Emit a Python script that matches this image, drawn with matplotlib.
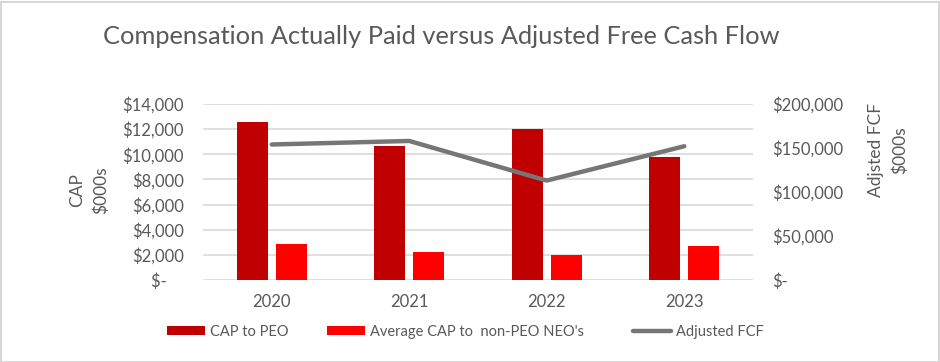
import matplotlib
matplotlib.use("Agg")
import matplotlib.pyplot as plt
import numpy as np
from matplotlib.patches import Rectangle

years = ["2020", "2021", "2022", "2023"]
cap_peo = [12600, 10650, 12050, 9750]
cap_neo = [2850, 2250, 1950, 2700]
adj_fcf = [154000, 158000, 113000, 152000]

left_ticks = [0, 2000, 4000, 6000, 8000, 10000, 12000, 14000]
left_labels = ["$-    ", "$2,000", "$4,000", "$6,000", "$8,000", "$10,000", "$12,000", "$14,000"]
right_ticks = [0, 50000, 100000, 150000, 200000]
right_labels = ["$-", "$50,000", "$100,000", "$150,000", "$200,000"]

plt.rcParams['font.family'] = ['Lato', 'DejaVu Sans']
grey = "#595959"
W, H = 940, 362
fig = plt.figure(figsize=(W / 100, H / 100), dpi=100)
fig.patches.append(Rectangle((0.5 / W, 0.5 / H), 1 - 2 / W, 1 - 2 / H, transform=fig.transFigure,
                             fill=False, edgecolor="#d0d0d0", linewidth=1.2))

x0, x1, y0, y1 = 203, 753, 104, 280
ax = fig.add_axes([x0 / W, 1 - y1 / H, (x1 - x0) / W, (y1 - y0) / H])
x = np.arange(len(years))
bw = 0.225
off = 0.143
b1 = ax.bar(x - off, cap_peo, bw, color="#C00000", label="CAP to PEO", zorder=3)
b2 = ax.bar(x + off, cap_neo, bw, color="#FF0000", label="Average CAP to  non-PEO NEO's", zorder=3)
ax.set_xlim(-0.5, len(years) - 0.5)
ax.set_ylim(0, 14000)
ax.set_yticks(left_ticks)
ax.set_yticklabels(left_labels)
ax.set_xticks(x)
ax.set_xticklabels(years)
ax.grid(axis="y", color="#d9d9d9", linewidth=1.2, zorder=0)
for s in ax.spines.values():
    s.set_visible(False)
ax.tick_params(axis="both", length=0, labelsize=12, labelcolor=grey)
ax.tick_params(axis="y", pad=14)
ax.tick_params(axis="x", pad=10)

ax2 = ax.twinx()
l1, = ax2.plot(x, adj_fcf, color="#767676", linewidth=3.2, solid_capstyle="round", label="Adjusted FCF", zorder=4)
ax2.set_ylim(0, 200000)
ax2.set_yticks(right_ticks)
ax2.set_yticklabels(right_labels)
for s in ax2.spines.values():
    s.set_visible(False)
ax2.tick_params(axis="y", length=0, labelsize=12, labelcolor=grey, pad=14)

fig.text(89 / W, 1 - 190 / H, "CAP\n$000s", rotation=90, ha="center", va="center",
         fontsize=12.5, color=grey, linespacing=1.6, multialignment="center")
fig.text(888 / W, 1 - 150 / H, "Adjsted FCF\n$000s", rotation=90, ha="center", va="center",
         fontsize=12.5, color=grey, linespacing=1.6, multialignment="center")

fig.text(441 / W, 1 - 36 / H, "Compensation Actually Paid versus Adjusted Free Cash Flow",
         ha="center", va="center", fontsize=18.3, color=grey)

leg_fs = 10.5
for h, xs in [(b1, 167), (b2, 327), (l1, 633)]:
    lg = fig.legend(handles=[h], loc="center left", bbox_to_anchor=(xs / W, 1 - 332 / H),
                    frameon=False, fontsize=leg_fs, labelcolor=grey,
                    handlelength=27.5 / leg_fs, handleheight=0.6, handletextpad=3.6 / leg_fs,
                    borderpad=0, borderaxespad=0)

fig.savefig("out.png", dpi=100)
